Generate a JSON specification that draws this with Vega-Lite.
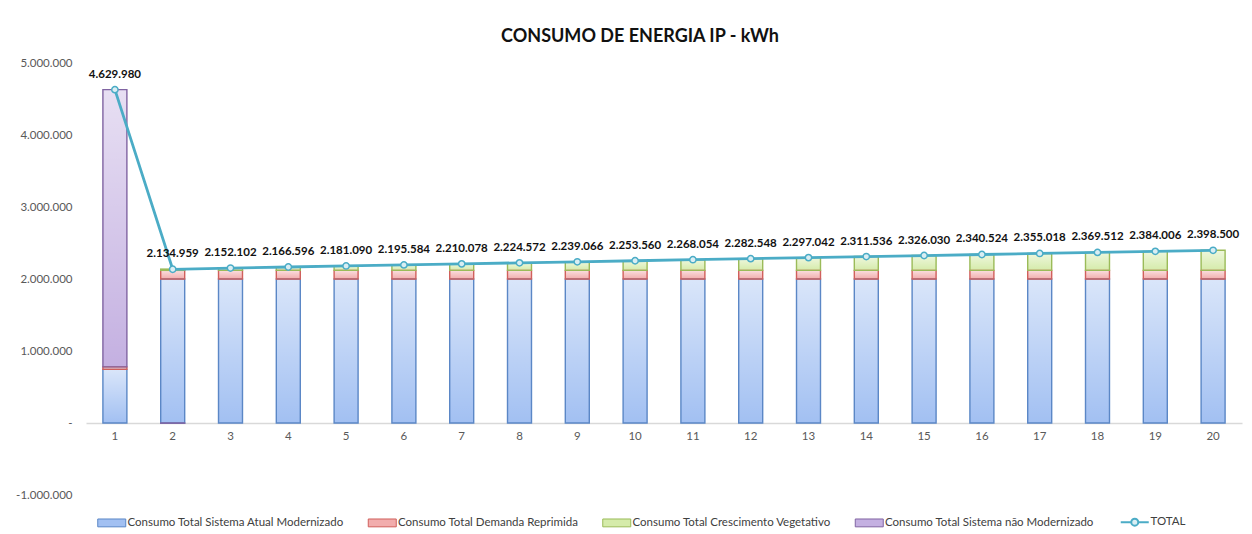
{
  "$schema": "https://vega.github.io/schema/vega-lite/v6.json",
  "width": 1156,
  "height": 432,
  "autosize": {"type": "none"},
  "padding": {"left": 86, "top": 63, "right": 10, "bottom": 39},
  "background": "white",
  "title": {
    "text": "CONSUMO DE ENERGIA IP - kWh",
    "font": "Lato",
    "fontSize": 18,
    "fontWeight": "bold",
    "color": "#111111",
    "anchor": "middle",
    "dx": -24,
    "offset": 11
  },
  "datasets": {
    "bars": [
      {"ano": 1, "serie": "Consumo Total Sistema Atual Modernizado", "valor": 745000, "ordem": 1},
      {"ano": 1, "serie": "Consumo Total Demanda Reprimida", "valor": 35000, "ordem": 2},
      {"ano": 1, "serie": "Consumo Total Sistema não Modernizado", "valor": 3849980, "ordem": 4},
      {"ano": 2, "serie": "Consumo Total Sistema Atual Modernizado", "valor": 2000000, "ordem": 1},
      {"ano": 2, "serie": "Consumo Total Demanda Reprimida", "valor": 120000, "ordem": 2},
      {"ano": 2, "serie": "Consumo Total Crescimento Vegetativo", "valor": 17608, "ordem": 3},
      {"ano": 2, "serie": "Consumo Total Sistema não Modernizado", "valor": -2649, "ordem": 4},
      {"ano": 3, "serie": "Consumo Total Sistema Atual Modernizado", "valor": 2000000, "ordem": 1},
      {"ano": 3, "serie": "Consumo Total Demanda Reprimida", "valor": 120000, "ordem": 2},
      {"ano": 3, "serie": "Consumo Total Crescimento Vegetativo", "valor": 32102, "ordem": 3},
      {"ano": 4, "serie": "Consumo Total Sistema Atual Modernizado", "valor": 2000000, "ordem": 1},
      {"ano": 4, "serie": "Consumo Total Demanda Reprimida", "valor": 120000, "ordem": 2},
      {"ano": 4, "serie": "Consumo Total Crescimento Vegetativo", "valor": 46596, "ordem": 3},
      {"ano": 5, "serie": "Consumo Total Sistema Atual Modernizado", "valor": 2000000, "ordem": 1},
      {"ano": 5, "serie": "Consumo Total Demanda Reprimida", "valor": 120000, "ordem": 2},
      {"ano": 5, "serie": "Consumo Total Crescimento Vegetativo", "valor": 61090, "ordem": 3},
      {"ano": 6, "serie": "Consumo Total Sistema Atual Modernizado", "valor": 2000000, "ordem": 1},
      {"ano": 6, "serie": "Consumo Total Demanda Reprimida", "valor": 120000, "ordem": 2},
      {"ano": 6, "serie": "Consumo Total Crescimento Vegetativo", "valor": 75584, "ordem": 3},
      {"ano": 7, "serie": "Consumo Total Sistema Atual Modernizado", "valor": 2000000, "ordem": 1},
      {"ano": 7, "serie": "Consumo Total Demanda Reprimida", "valor": 120000, "ordem": 2},
      {"ano": 7, "serie": "Consumo Total Crescimento Vegetativo", "valor": 90078, "ordem": 3},
      {"ano": 8, "serie": "Consumo Total Sistema Atual Modernizado", "valor": 2000000, "ordem": 1},
      {"ano": 8, "serie": "Consumo Total Demanda Reprimida", "valor": 120000, "ordem": 2},
      {"ano": 8, "serie": "Consumo Total Crescimento Vegetativo", "valor": 104572, "ordem": 3},
      {"ano": 9, "serie": "Consumo Total Sistema Atual Modernizado", "valor": 2000000, "ordem": 1},
      {"ano": 9, "serie": "Consumo Total Demanda Reprimida", "valor": 120000, "ordem": 2},
      {"ano": 9, "serie": "Consumo Total Crescimento Vegetativo", "valor": 119066, "ordem": 3},
      {"ano": 10, "serie": "Consumo Total Sistema Atual Modernizado", "valor": 2000000, "ordem": 1},
      {"ano": 10, "serie": "Consumo Total Demanda Reprimida", "valor": 120000, "ordem": 2},
      {"ano": 10, "serie": "Consumo Total Crescimento Vegetativo", "valor": 133560, "ordem": 3},
      {"ano": 11, "serie": "Consumo Total Sistema Atual Modernizado", "valor": 2000000, "ordem": 1},
      {"ano": 11, "serie": "Consumo Total Demanda Reprimida", "valor": 120000, "ordem": 2},
      {"ano": 11, "serie": "Consumo Total Crescimento Vegetativo", "valor": 148054, "ordem": 3},
      {"ano": 12, "serie": "Consumo Total Sistema Atual Modernizado", "valor": 2000000, "ordem": 1},
      {"ano": 12, "serie": "Consumo Total Demanda Reprimida", "valor": 120000, "ordem": 2},
      {"ano": 12, "serie": "Consumo Total Crescimento Vegetativo", "valor": 162548, "ordem": 3},
      {"ano": 13, "serie": "Consumo Total Sistema Atual Modernizado", "valor": 2000000, "ordem": 1},
      {"ano": 13, "serie": "Consumo Total Demanda Reprimida", "valor": 120000, "ordem": 2},
      {"ano": 13, "serie": "Consumo Total Crescimento Vegetativo", "valor": 177042, "ordem": 3},
      {"ano": 14, "serie": "Consumo Total Sistema Atual Modernizado", "valor": 2000000, "ordem": 1},
      {"ano": 14, "serie": "Consumo Total Demanda Reprimida", "valor": 120000, "ordem": 2},
      {"ano": 14, "serie": "Consumo Total Crescimento Vegetativo", "valor": 191536, "ordem": 3},
      {"ano": 15, "serie": "Consumo Total Sistema Atual Modernizado", "valor": 2000000, "ordem": 1},
      {"ano": 15, "serie": "Consumo Total Demanda Reprimida", "valor": 120000, "ordem": 2},
      {"ano": 15, "serie": "Consumo Total Crescimento Vegetativo", "valor": 206030, "ordem": 3},
      {"ano": 16, "serie": "Consumo Total Sistema Atual Modernizado", "valor": 2000000, "ordem": 1},
      {"ano": 16, "serie": "Consumo Total Demanda Reprimida", "valor": 120000, "ordem": 2},
      {"ano": 16, "serie": "Consumo Total Crescimento Vegetativo", "valor": 220524, "ordem": 3},
      {"ano": 17, "serie": "Consumo Total Sistema Atual Modernizado", "valor": 2000000, "ordem": 1},
      {"ano": 17, "serie": "Consumo Total Demanda Reprimida", "valor": 120000, "ordem": 2},
      {"ano": 17, "serie": "Consumo Total Crescimento Vegetativo", "valor": 235018, "ordem": 3},
      {"ano": 18, "serie": "Consumo Total Sistema Atual Modernizado", "valor": 2000000, "ordem": 1},
      {"ano": 18, "serie": "Consumo Total Demanda Reprimida", "valor": 120000, "ordem": 2},
      {"ano": 18, "serie": "Consumo Total Crescimento Vegetativo", "valor": 249512, "ordem": 3},
      {"ano": 19, "serie": "Consumo Total Sistema Atual Modernizado", "valor": 2000000, "ordem": 1},
      {"ano": 19, "serie": "Consumo Total Demanda Reprimida", "valor": 120000, "ordem": 2},
      {"ano": 19, "serie": "Consumo Total Crescimento Vegetativo", "valor": 264006, "ordem": 3},
      {"ano": 20, "serie": "Consumo Total Sistema Atual Modernizado", "valor": 2000000, "ordem": 1},
      {"ano": 20, "serie": "Consumo Total Demanda Reprimida", "valor": 120000, "ordem": 2},
      {"ano": 20, "serie": "Consumo Total Crescimento Vegetativo", "valor": 278500, "ordem": 3}
    ],
    "totals": [
      {"ano": 1, "total": 4629980},
      {"ano": 2, "total": 2134959},
      {"ano": 3, "total": 2152102},
      {"ano": 4, "total": 2166596},
      {"ano": 5, "total": 2181090},
      {"ano": 6, "total": 2195584},
      {"ano": 7, "total": 2210078},
      {"ano": 8, "total": 2224572},
      {"ano": 9, "total": 2239066},
      {"ano": 10, "total": 2253560},
      {"ano": 11, "total": 2268054},
      {"ano": 12, "total": 2282548},
      {"ano": 13, "total": 2297042},
      {"ano": 14, "total": 2311536},
      {"ano": 15, "total": 2326030},
      {"ano": 16, "total": 2340524},
      {"ano": 17, "total": 2355018},
      {"ano": 18, "total": 2369512},
      {"ano": 19, "total": 2384006},
      {"ano": 20, "total": 2398500}
    ]
  },
  "encoding": {
    "x": {
      "field": "ano",
      "type": "ordinal",
      "scale": {"paddingInner": 0.585, "paddingOuter": 0.2925},
      "axis": {
        "title": null,
        "labelAngle": 0,
        "offset": -72,
        "ticks": false,
        "domainColor": "#d9d9d9",
        "domainWidth": 1.5,
        "labelPadding": 7,
        "labelColor": "#595959",
        "labelFont": "Lato",
        "labelFontSize": 11.5
      }
    }
  },
  "layer": [
    {
      "data": {"name": "bars"},
      "transform": [
        {"stack": "valor", "groupby": ["ano"], "sort": [{"field": "ordem", "order": "ascending"}], "as": ["y0", "y1"]}
      ],
      "mark": {"type": "bar"},
      "encoding": {
        "y": {
          "field": "y0",
          "type": "quantitative",
          "scale": {"domain": [-1000000, 5000000], "nice": false},
          "axis": {
            "title": null,
            "values": [-1000000, 0, 1000000, 2000000, 3000000, 4000000, 5000000],
            "format": ",d",
            "labelExpr": "datum.value === 0 ? '-' : datum.label",
            "grid": false,
            "ticks": false,
            "domain": false,
            "labelPadding": 14,
            "labelColor": "#595959",
            "labelFont": "Lato",
            "labelFontSize": 11.5
          }
        },
        "y2": {"field": "y1"},
        "fill": {
          "field": "serie",
          "type": "nominal",
          "scale": {
            "domain": ["Consumo Total Sistema Atual Modernizado", "Consumo Total Demanda Reprimida", "Consumo Total Crescimento Vegetativo", "Consumo Total Sistema não Modernizado", "TOTAL"],
            "range": ["#a2c0f2", "#f2adad", "#d5ebaa", "#c4b0e1", "#daeef3"]
          },
          "legend": {
            "title": null,
            "orient": "none",
            "direction": "horizontal",
            "legendX": 20,
            "legendY": 453,
            "symbolSize": 784,
            "symbolStrokeWidth": 1,
            "labelOffset": 10,
            "columnPadding": 21.5,
            "labelFont": "Lato",
            "labelFontSize": 11.5,
            "labelColor": "#404040",
            "labelLimit": 400,
            "encode": {
              "symbols": {
                "update": {
                  "shape": {"signal": "datum.value === 'TOTAL' ? 'M-1,0H-0.25M0.25,0H1M-0.25,0A0.25,0.25,0,1,0,0.25,0A0.25,0.25,0,1,0,-0.25,0Z' : 'M-1,-0.28H1V0.28H-1Z'"},
                  "stroke": {"signal": "datum.value === 'Consumo Total Sistema Atual Modernizado' ? '#5b87c6' : datum.value === 'Consumo Total Demanda Reprimida' ? '#d0605c' : datum.value === 'Consumo Total Crescimento Vegetativo' ? '#9bbb59' : datum.value === 'Consumo Total Sistema não Modernizado' ? '#8064a2' : '#4bacc6'"},
                  "strokeWidth": {"signal": "datum.value === 'TOTAL' ? 2 : 1"},
                  "opacity": {"value": 1}
                }
              }
            }
          }
        }
      }
    },
    {
      "data": {"name": "bars"},
      "transform": [
        {"stack": "valor", "groupby": ["ano"], "sort": [{"field": "ordem", "order": "ascending"}], "as": ["y0", "y1"]}
      ],
      "mark": {
        "type": "bar",
        "strokeWidth": 1.4,
        "fill": {
          "gradient": "linear",
          "x1": 0, "y1": 0, "x2": 0, "y2": 1,
          "stops": [
            {"offset": 0, "color": "rgba(255,255,255,0.6)"},
            {"offset": 1, "color": "rgba(255,255,255,0)"}
          ]
        }
      },
      "encoding": {
        "y": {"field": "y0", "type": "quantitative"},
        "y2": {"field": "y1"},
        "stroke": {
          "field": "serie",
          "type": "nominal",
          "scale": {
            "domain": ["Consumo Total Sistema Atual Modernizado", "Consumo Total Demanda Reprimida", "Consumo Total Crescimento Vegetativo", "Consumo Total Sistema não Modernizado", "TOTAL"],
            "range": ["#5b87c6", "#d0605c", "#9bbb59", "#8064a2", "#4bacc6"]
          },
          "legend": null
        }
      }
    },
    {
      "data": {"name": "totals"},
      "mark": {
        "type": "line",
        "stroke": "#4bacc6",
        "strokeWidth": 2.8,
        "point": {"filled": true, "fill": "#daeef3", "stroke": "#4bacc6", "strokeWidth": 1.5, "size": 40}
      },
      "encoding": {
        "y": {"field": "total", "type": "quantitative"}
      }
    },
    {
      "data": {"name": "totals"},
      "mark": {"type": "text", "font": "Lato", "fontSize": 11.5, "fontWeight": "bold", "color": "#111111", "dy": -15},
      "encoding": {
        "y": {"field": "total", "type": "quantitative"},
        "text": {"field": "total", "type": "quantitative", "format": ",d"}
      }
    }
  ],
  "config": {
    "view": {"stroke": null},
    "locale": {
      "number": {"decimal": ",", "thousands": ".", "grouping": [3], "currency": ["R$ ", ""], "minus": "-"}
    }
  }
}
